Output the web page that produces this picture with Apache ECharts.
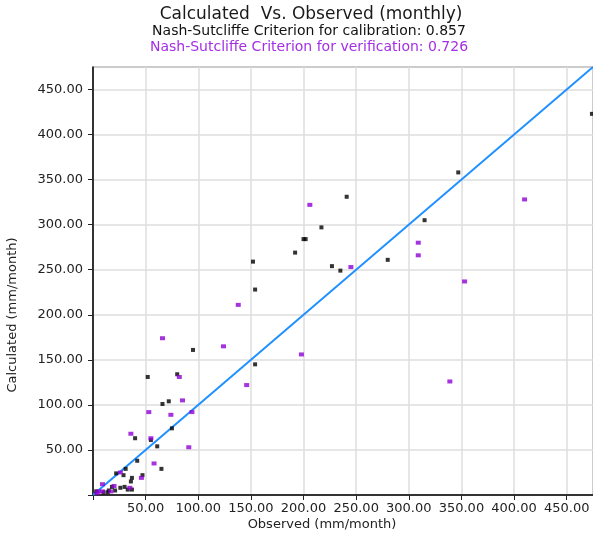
<!DOCTYPE html>
<html>
<head>
<meta charset="utf-8">
<script src="https://cdn.jsdelivr.net/npm/echarts@6/dist/echarts.min.js"></script>
<style>
  html, body { margin: 0; padding: 0; background: #ffffff; }
  #chart { width: 593px; height: 536px; }
</style>
</head>
<body>
<div id="chart"></div>
<script>
// Texts
const titleText = 'Calculated  Vs. Observed (monthly)';
const calibrationText = 'Nash-Sutcliffe Criterion for calibration: 0.857';
const verificationText = 'Nash-Sutcliffe Criterion for verification: 0.726';
const xAxisName = 'Observed (mm/month)';
const yAxisName = 'Calculated (mm/month)';

// Axis range shared by both axes (mm/month)
const axisMin = 0;
const axisMax = 475;
const tickStep = 50;

// Calibration period: [observed, calculated]
const calibration = [
  [241, 331], [217, 297], [200, 284], [202, 284], [192, 269], [152, 259],
  [154, 228], [227, 254], [235, 249], [280, 261], [347, 358], [315, 305],
  [95, 161], [154, 145], [52, 131], [80, 134], [72, 104], [66, 101],
  [75, 74], [40, 63], [55, 61], [61, 54], [42, 38], [31, 29], [65, 29],
  [22, 24], [29, 22], [47, 22], [37, 19], [36, 15], [30, 9], [33, 6],
  [37, 6], [26, 8], [21, 5], [15, 5], [18, 9], [14, 3], [3, 4], [10, 3],
  [474, 423]
];

// Verification period: [observed, calculated]
const verification = [
  [206, 322], [245, 253], [138, 211], [66, 174], [124, 165], [198, 156],
  [82, 131], [410, 328], [309, 280], [309, 266], [353, 237], [339, 126],
  [146, 122], [85, 105], [53, 92], [74, 89], [94, 92], [36, 68], [55, 63],
  [91, 53], [58, 35], [46, 19], [26, 25], [9, 12], [20, 10], [35, 8],
  [5, 4], [9, 4], [17, 4], [4, 2]
];

// 1:1 reference line
const perfectFit = [[axisMin, axisMin], [axisMax, axisMax]];

const FONT = 'DejaVu Sans';
const INK = '#1a1a1a';
const PURPLE_TEXT = '#a32ee6';
const PURPLE_MARK = '#8e00d6';

// Labels every 50 with two decimals; the origin and the range end stay blank
function tickLabel(v) {
  if (v <= axisMin || v % tickStep !== 0) return '';
  return v.toFixed(2);
}

function makeAxis(isX) {
  return {
    type: 'value',
    min: axisMin,
    max: axisMax,
    interval: tickStep,
    axisLine: { show: true, onZero: false, lineStyle: { color: '#000', width: 1.5 } },
    axisTick: { show: true, length: 5, lineStyle: { color: '#222', width: 1 } },
    axisLabel: {
      formatter: tickLabel,
      color: '#222',
      fontFamily: FONT,
      fontSize: 13,
      margin: isX ? 7 : 10,
      showMaxLabel: false
    },
    splitLine: { show: true, lineStyle: { color: '#dedede', width: 1.5 } }
  };
}

function textItem(text, x, y, size, color, rotation) {
  return {
    type: 'text', x: x, y: y, rotation: rotation || 0,
    style: {
      text: text, fill: color, font: size + 'px "' + FONT + '"',
      textAlign: 'center', textVerticalAlign: 'middle'
    }
  };
}

const chart = echarts.init(document.getElementById('chart'), null, { renderer: 'canvas' });

chart.setOption({
  animation: false,
  backgroundColor: '#ffffff',
  grid: {
    left: 93, top: 67, right: 0, bottom: 41,
    show: true, borderColor: '#333', borderWidth: 1, backgroundColor: 'transparent'
  },
  xAxis: makeAxis(true),
  yAxis: makeAxis(false),
  graphic: [
    textItem(titleText, 311, 15, 17, INK),
    textItem(calibrationText, 309, 31, 14, '#111'),
    textItem(verificationText, 309, 47, 14, PURPLE_TEXT),
    textItem(xAxisName, 322, 525, 13, '#222'),
    textItem(yAxisName, 13, 315, 13, '#222', Math.PI / 2)
  ],
  series: [
    {
      name: '1:1',
      type: 'line',
      data: perfectFit,
      showSymbol: false,
      symbol: 'none',
      lineStyle: { color: '#1e90ff', width: 2 },
      z: 2
    },
    {
      name: 'Calibration',
      type: 'scatter',
      data: calibration,
      symbol: 'rect',
      symbolSize: [4, 4],
      itemStyle: { color: '#000000' },
      z: 3
    },
    {
      name: 'Verification',
      type: 'scatter',
      data: verification,
      symbol: 'rect',
      symbolSize: [5, 4],
      itemStyle: { color: PURPLE_MARK },
      z: 4
    }
  ]
});
</script>
</body>
</html>
